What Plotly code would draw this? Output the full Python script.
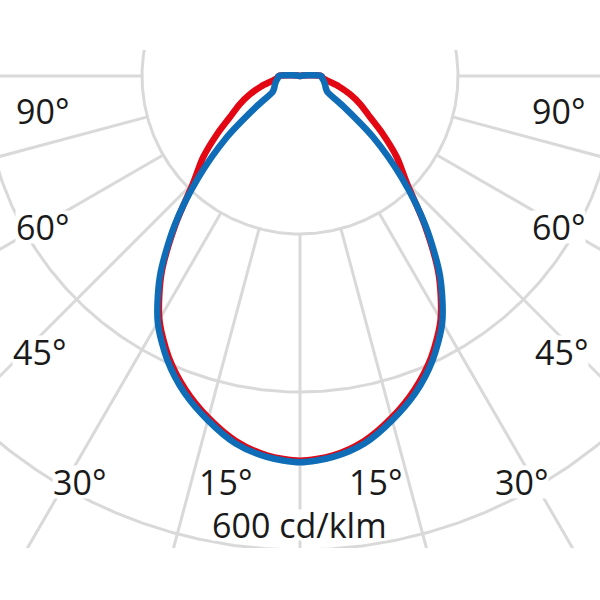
import numpy as np
import plotly.graph_objects as go

# ---- data (luminous intensity in cd/klm vs. gamma angle) ----
gamma_deg = list(range(0, 181, 5))
# C90/C270 plane (blue)
blue_cd = [489, 484, 472, 451, 427, 397, 360, 309, 247, 182, 122, 67, 40, 36, 34,
           32, 30, 28, 27, 10, 3] + [0] * 16
# C0/C180 plane (red)
red_cd = [487, 482, 469, 448, 423, 393, 356, 306, 245, 191, 160, 128, 101, 84, 67,
          51, 36, 29, 27, 10, 3] + [0] * 16

grid_circles_cd = [200, 400, 600]
grid_angles_deg = [-90, -75, -60, -45, -30, -15, 0, 15, 30, 45, 60, 75, 90]
angle_labels = ["90°", "60°", "45°", "30°", "15°"]
scale_label = "600 cd/klm"

# ---- layout constants ----
K = 200 / 158.0          # cd/klm per pixel
CX, CY = 300, 76         # pole position in pixels
GRID = "#d9d9d9"
RED = "#e30613"
BLUE = "#0f6cb6"
FONT = "Open Sans"


def polar_xy(r, g_deg):
    g = np.radians(np.asarray(g_deg, dtype=float))
    r = np.asarray(r, dtype=float)
    return r * np.sin(g), -r * np.cos(g)


fig = go.Figure()

# grid circles
t = np.linspace(0, 360, 721)
for rc in grid_circles_cd:
    x, y = polar_xy(np.full_like(t, rc), t)
    fig.add_trace(go.Scatter(x=x, y=y, mode="lines",
                             line=dict(color=GRID, width=3), hoverinfo="skip"))

# radial lines (start at the inner circle)
for a in grid_angles_deg:
    x, y = polar_xy([grid_circles_cd[0], 2000], [a, a])
    fig.add_trace(go.Scatter(x=x, y=y, mode="lines",
                             line=dict(color=GRID, width=3), hoverinfo="skip"))


def curve(vals):
    g = np.array(gamma_deg, dtype=float)
    v = np.array(vals, dtype=float)
    gg = np.concatenate([-g[::-1], g[1:]])
    vv = np.concatenate([v[::-1], v[1:]])
    x, y = polar_xy(vv, gg)
    # drop repeated points at the pole (zero intensity)
    keep = [0]
    for i in range(1, len(x)):
        if abs(x[i] - x[keep[-1]]) > 1e-9 or abs(y[i] - y[keep[-1]]) > 1e-9:
            keep.append(i)
    return x[keep], y[keep]


xr, yr = curve(red_cd)
fig.add_trace(go.Scatter(x=xr, y=yr, mode="lines", name="C0-C180",
                         line=dict(color=RED, width=6.5, shape="spline", smoothing=0.8)))
xb, yb = curve(blue_cd)
fig.add_trace(go.Scatter(x=xb, y=yb, mode="lines", name="C90-C270",
                         line=dict(color=BLUE, width=6.5, shape="spline", smoothing=0.8)))


def px2data(px, py):
    return (px - CX) * K, (CY - py) * K


label_pos_left = [(42, 111), (42, 227), (39, 352), (79, 482), (225, 482)]
anns = []
for lab, (px, py) in zip(angle_labels, label_pos_left):
    for sx in (px, 600 - px):
        x, y = px2data(sx, py)
        anns.append(dict(x=x, y=y, xref="x", yref="y", text=lab, showarrow=False,
                         font=dict(family=FONT, size=34, color="#1a1a1a"),
                         bgcolor="white", borderpad=0, height=32,
                         xanchor="center", yanchor="middle"))
x, y = px2data(299, 525)
anns.append(dict(x=x, y=y, xref="x", yref="y", text=scale_label, showarrow=False,
                 font=dict(family=FONT, size=34, color="#1a1a1a"),
                 bgcolor="white", borderpad=0, height=30,
                 xanchor="center", yanchor="middle"))

fig.update_layout(
    width=600, height=600,
    margin=dict(l=0, r=0, t=50, b=52),
    paper_bgcolor="white", plot_bgcolor="white",
    showlegend=False,
    xaxis=dict(range=[-CX * K, (600 - CX) * K], visible=False, fixedrange=True),
    yaxis=dict(range=[-(548 - CY) * K, (CY - 50) * K], visible=False, fixedrange=True),
    annotations=anns,
)

fig.write_html("out.html", config={"displayModeBar": False},
               post_script="document.body.style.margin='0';")
